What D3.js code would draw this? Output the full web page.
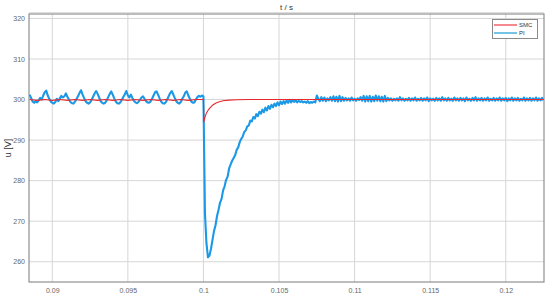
<!DOCTYPE html>
<html><head><meta charset="utf-8">
<script src="https://cdn.jsdelivr.net/npm/d3@7"></script>
<style>
body{margin:0;background:#fff;}
svg{display:block;font-family:"Liberation Sans",Arial,sans-serif;}
</style></head>
<body>
<svg id="chart" width="550" height="296"></svg>
<script>
// ---- data ----
const xTicks = [0.09, 0.095, 0.1, 0.105, 0.11, 0.115, 0.12];
const xTickLabels = ["0.09", "0.095", "0.1", "0.105", "0.11", "0.115", "0.12"];
const yTicks = [260, 270, 280, 290, 300, 310, 320];
const seriesNames = ["SMC", "PI"];
const title = "t / s";
const yLabel = "u [V]";

// PI: sampled every 0.1 ms
const piStep = 0.0001;
const piStart = 0.0885;
const piPre = [
  301.2, 300.4, 299.5, 299.2, 299.6,
  299.3, 299.8, 300.4, 300.0, 301.0, 301.8, 302.2, 301.0, 300.2, 299.5,
  299.2, 299.0, 299.4, 300.2, 299.6, 300.3, 300.9, 300.5, 300.8, 301.5,
  300.7, 300.0, 299.4, 299.1, 299.0, 299.5, 300.1, 300.8, 301.6, 302.3,
  301.3, 300.4, 299.6, 299.2, 299.0, 299.3, 299.9, 300.7, 301.5, 302.1,
  301.4, 300.5, 299.6, 299.2, 299.0, 299.2, 299.8, 300.6, 301.4, 302.0,
  301.2, 300.3, 299.5, 299.1, 299.0, 299.3, 299.9, 300.6, 301.3, 302.1,
  301.0, 300.5, 301.2, 300.4, 299.7, 299.3, 299.1, 299.4, 299.9, 300.5,
  300.8, 300.2, 299.6, 299.3, 299.2, 299.5, 300.2, 301.0, 301.8, 302.0,
  301.2, 300.3, 299.5, 299.1, 299.0, 299.3, 300.0, 300.8, 301.6, 302.1,
  301.3, 300.4, 299.6, 299.2, 299.0, 299.4, 300.2, 300.8, 301.7, 302.0,
  301.0, 300.2, 299.5, 299.2, 299.3, 300.0, 300.6, 300.9, 300.7, 301.0,
  300.8
];
const piDrop = [
  272.0, 264.5, 261.1, 261.5, 263.2, 265.4, 267.6, 269.0, 271.3, 272.8,
  274.6, 275.5, 277.6, 278.6, 280.2, 281.0, 283.0, 284.0, 284.9, 285.6,
  286.3, 287.6, 288.2, 289.5, 290.3, 290.9, 292.0, 292.4, 293.4, 293.6,
  294.8, 294.6, 295.7, 295.3, 296.4, 295.9, 297.0, 296.5, 297.5, 296.9,
  298.0, 297.3, 298.4, 297.7, 298.7, 298.1, 299.0, 298.4, 299.3, 298.6,
  299.5, 298.9, 299.6, 299.0, 299.8, 299.2, 299.9, 299.3, 299.9, 299.4,
  299.8, 299.3, 299.7, 299.4, 299.6, 299.3, 299.5, 299.2, 299.6, 299.1,
  299.4, 299.2, 299.5, 299.3, 301.0
];
const piPost = [
  300.2, 299.6, 300.6, 299.7, 300.5, 299.6, 300.3, 299.8, 300.6, 299.7,
  300.8, 299.6, 300.7, 299.5, 300.9, 299.6, 300.6, 299.7, 300.4, 299.8,
  300.3, 299.7, 300.5, 299.8, 300.2, 299.7, 300.3, 299.9, 300.6, 299.7,
  300.9, 299.5, 300.8, 299.6, 300.9, 299.5, 300.7, 299.6, 301.0, 299.7,
  300.8, 299.6, 300.7, 299.5, 300.9, 299.6, 300.4, 299.8, 300.3, 299.7,
  300.2, 299.8, 300.3, 299.7, 300.6, 299.8, 300.3, 299.7, 300.2, 299.8,
  300.4, 299.7, 300.3, 299.8, 300.5, 299.7, 300.2, 299.8, 300.4, 299.7,
  300.3, 299.8, 300.5, 299.6, 300.3, 299.8, 300.2, 299.7, 300.4, 299.8,
  300.3, 299.7, 300.6, 299.8, 300.3, 299.7, 300.4, 299.8, 300.2, 299.7,
  300.5, 299.8, 300.3, 299.7, 300.4, 299.8, 300.3, 299.6, 300.5, 299.8,
  300.2, 299.7, 300.4, 299.8, 300.6, 299.7, 300.3, 299.8, 300.4, 299.7,
  300.3, 299.8, 300.5, 299.7, 300.2, 299.8, 300.4, 299.7, 300.3, 299.8,
  300.5, 299.7, 300.3, 299.8, 300.4, 299.6, 300.3, 299.8, 300.5, 299.7,
  300.3, 299.8, 300.4, 299.7, 300.2, 299.8, 300.5, 299.7, 300.3, 299.8,
  300.4, 299.7, 300.3, 299.8, 300.5, 299.7, 300.3, 299.8, 300.4, 299.8
];

// SMC: explicit time / value pairs
const smcT = [0.0885, 0.0890, 0.0895, 0.0900, 0.0905, 0.0910, 0.0915, 0.0920, 0.0925, 0.0930,
  0.0935, 0.0940, 0.0945, 0.0950, 0.0955, 0.0960, 0.0965, 0.0970, 0.0975, 0.0980,
  0.0985, 0.0990, 0.0995, 0.1000, 0.10002, 0.1001, 0.1002, 0.1003, 0.1004, 0.1005,
  0.1006, 0.1008, 0.1010, 0.1013, 0.1017, 0.1022, 0.1030, 0.1100, 0.1225];
const smcV = [300.0, 299.8, 300.0, 299.8, 300.0, 299.8, 300.0, 299.8, 300.0, 299.8,
  300.0, 299.8, 300.0, 299.8, 300.0, 299.8, 300.0, 299.8, 300.0, 299.8,
  300.0, 299.8, 300.0, 300.0, 294.4, 295.6, 296.7, 297.3, 297.8, 298.2,
  298.6, 299.1, 299.4, 299.7, 299.85, 299.95, 300.0, 300.0, 300.0];

// ---- build ----
const piPoints = [];
piPre.forEach((v, i) => piPoints.push([piStart + i * piStep, v]));
const dropStart = piStart + piPre.length * piStep;
piDrop.forEach((v, i) => piPoints.push([dropStart + i * piStep, v]));
const postStart = dropStart + piDrop.length * piStep;
piPost.forEach((v, i) => piPoints.push([postStart + i * piStep, v]));
const smcPoints = smcT.map((t, i) => [t, smcV[i]]);

const L = 29, R = 544, T = 14, B = 282;
const svg = d3.select("#chart");
const x = d3.scaleLinear().domain([0.08846, 0.12253]).range([L, R]);
const y = d3.scaleLinear().domain([255, 321.1]).range([B, T]);

// grid
svg.append("g").selectAll("line").data(xTicks).join("line")
  .attr("x1", d => x(d)).attr("x2", d => x(d)).attr("y1", T).attr("y2", B)
  .attr("stroke", "#d6d6d6").attr("stroke-width", 1);
svg.append("g").selectAll("line").data(yTicks).join("line")
  .attr("x1", L).attr("x2", R).attr("y1", d => y(d)).attr("y2", d => y(d))
  .attr("stroke", "#d6d6d6").attr("stroke-width", 1);

// axes (ticks labels)
const xAxis = d3.axisBottom(x).tickValues(xTicks).tickFormat((d, i) => xTickLabels[i]).tickSize(0).tickPadding(6);
const gx = svg.append("g").attr("transform", `translate(0,${B})`).call(xAxis);
gx.select(".domain").remove();
gx.selectAll("text").attr("fill", "#666").style("font-size", "7px");
const yAxis = d3.axisLeft(y).tickValues(yTicks).tickFormat(d3.format("d")).tickSize(0).tickPadding(4);
const gy = svg.append("g").attr("transform", `translate(${L},0)`).call(yAxis);
gy.select(".domain").remove();
gy.selectAll("text").attr("fill", "#666").style("font-size", "7px");

// clip
svg.append("clipPath").attr("id", "clip").append("rect")
  .attr("x", L).attr("y", T).attr("width", R - L).attr("height", B - T);

const line = d3.line().x(d => x(d[0])).y(d => y(d[1]));
const plot = svg.append("g").attr("clip-path", "url(#clip)");
plot.append("path").datum(piPoints).attr("d", line)
  .attr("fill", "none").attr("stroke", "#1b98e6").attr("stroke-width", 2.1).attr("stroke-linejoin", "round");
plot.append("path").datum(smcPoints).attr("d", line)
  .attr("fill", "none").attr("stroke", "#e8282e").attr("stroke-width", 1.1);

// box
svg.append("rect").attr("x", L).attr("y", T).attr("width", R - L).attr("height", B - T)
  .attr("fill", "none").attr("stroke", "#7a7a7a").attr("stroke-width", 1);
svg.append("line").attr("x1", L).attr("x2", R).attr("y1", T - 1).attr("y2", T - 1)
  .attr("stroke", "#bdbdbd").attr("stroke-width", 1);

// title & y label
svg.append("text").attr("x", (L + R) / 2).attr("y", 10).attr("text-anchor", "middle")
  .attr("fill", "#333").style("font-size", "8px").text(title);
svg.append("text").attr("transform", `translate(11,${(T + B) / 2}) rotate(-90)`)
  .attr("text-anchor", "middle").attr("fill", "#333").style("font-size", "9px").text(yLabel);

// legend
const leg = svg.append("g");
leg.append("rect").attr("x", 492.5).attr("y", 19.5).attr("width", 45).attr("height", 19)
  .attr("fill", "#fff").attr("stroke", "#8a8a8a").attr("stroke-width", 1);
const legColors = ["#f04a50", "#2aa4d8"];
seriesNames.forEach((n, i) => {
  const yy = 25 + i * 8;
  leg.append("line").attr("x1", 494).attr("x2", 517).attr("y1", yy).attr("y2", yy)
    .attr("stroke", legColors[i]).attr("stroke-width", 1.3);
  leg.append("text").attr("x", 519).attr("y", yy + 2).attr("fill", "#333")
    .style("font-size", "6px").text(n);
});
</script>
</body></html>
